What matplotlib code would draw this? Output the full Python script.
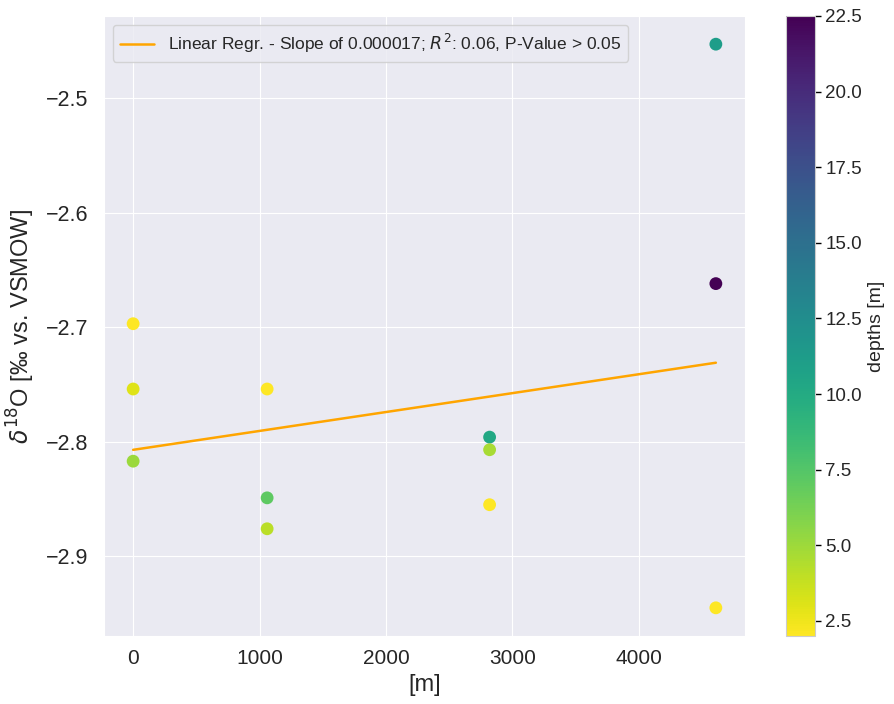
import numpy as np
import matplotlib
matplotlib.use("Agg")
import matplotlib.pyplot as plt
import seaborn as sns

sns.set_style("darkgrid")
plt.rcParams['font.family'] = ['Liberation Sans', 'DejaVu Sans']

# distance along transect [m], d18O and sampling depth
distance = [0, 0, 0, 1060, 1060, 1060, 2820, 2820, 2820, 4610, 4610, 4610]
d18o = [-2.697, -2.754, -2.817, -2.754, -2.849, -2.876,
        -2.796, -2.807, -2.855, -2.453, -2.662, -2.945]
depths = [2.0, 3.0, 5.1, 2.0, 7.1, 4.1, 10.2, 4.7, 2.0, 11.2, 22.5, 2.0]

x = np.array(distance)
y = np.array(d18o)
slope, intercept = np.polyfit(x, y, 1)
xs = np.array([x.min(), x.max()])

fig = plt.figure(figsize=(8.95, 7.04), dpi=100)
ax = fig.add_axes([104 / 895, 68 / 704, 641 / 895, 620 / 704])
cax = fig.add_axes([786 / 895, 68 / 704, 29 / 895, 620 / 704])

sc = ax.scatter(x, y, c=depths, cmap="viridis_r", vmin=2.0, vmax=22.5,
                s=85, edgecolors="none", zorder=3)
ax.plot(xs, intercept + slope * xs, color="orange", lw=1.8, zorder=2,
        label="Linear Regr. - Slope of 0.000017; $R^2$: 0.06, P-Value > 0.05")

ax.set_xlabel("[m]", fontsize=17)
ax.set_ylabel(r"$\delta^{18}$O [‰ vs. VSMOW]", fontsize=17, labelpad=6)
ax.tick_params(axis="y", labelsize=15.5, pad=8)
ax.tick_params(axis="x", labelsize=15, pad=6)
ax.set_xticks([0, 1000, 2000, 3000, 4000])
ax.legend(loc="upper left", fontsize=12.5)

cb = fig.colorbar(sc, cax=cax)
cb.set_ticks([2.5, 5.0, 7.5, 10.0, 12.5, 15.0, 17.5, 20.0, 22.5])
cb.ax.tick_params(labelsize=13.5, length=4, width=1, color="black")
cb.set_label("depths [m]", fontsize=14)
cb.outline.set_edgecolor("#cccccc")

fig.savefig("out.png", dpi=100)
